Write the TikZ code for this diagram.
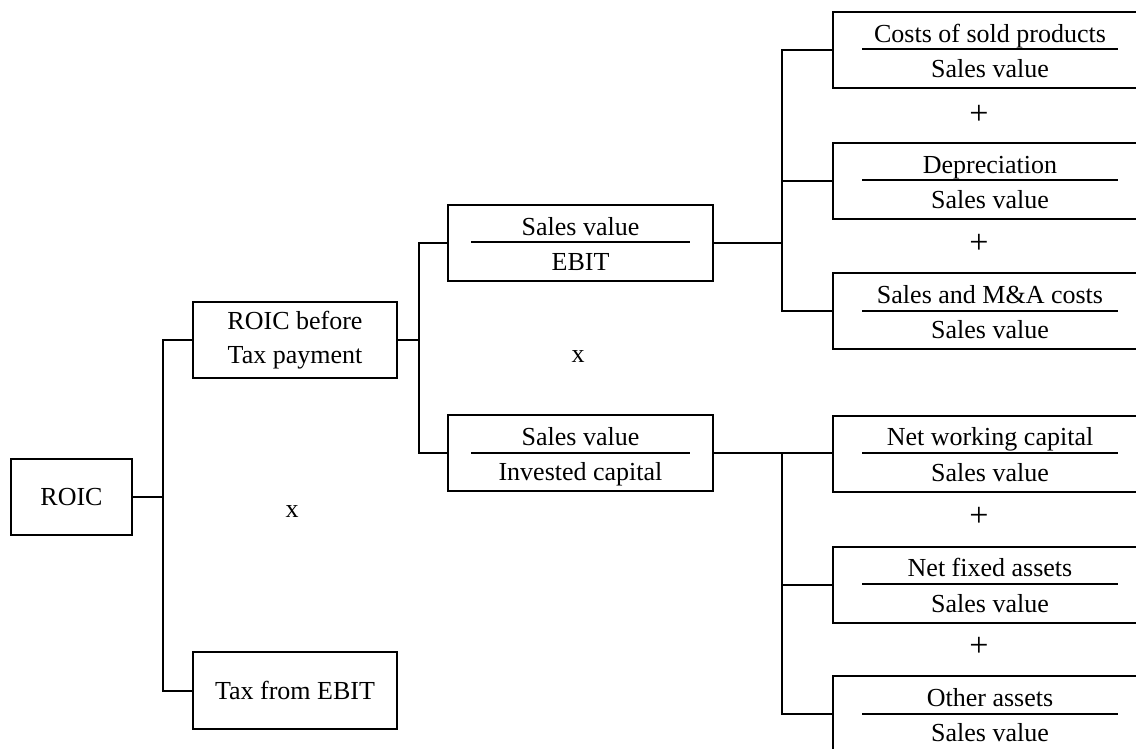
\documentclass[tikz,border=0pt]{standalone}
\usepackage{fontspec}
\usepackage{array}
\usepackage{tikz}
\setmainfont{Liberation Serif}

\setlength{\arrayrulewidth}{1pt}
\newcommand{\ratio}[3]{%
  \begin{tabular}{@{}>{\centering\arraybackslash}p{#1}@{}}
    \rule{0pt}{15pt}#2\\[-2pt]\hline
    \rule{0pt}{13.5pt}#3
  \end{tabular}}

\tikzset{
  box/.style={draw, line width=1pt, inner sep=0pt, minimum height=38pt,
    align=center, font=\fontsize{13}{17}\selectfont},
  sign/.style={inner sep=0pt, font=\fontsize{13}{17}\selectfont},
  plus/.style={inner sep=0pt, font=\fontsize{17}{17}\selectfont},
  link/.style={line width=1pt}
}

\begin{document}
\begin{tikzpicture}[x=0.5pt, y=-0.5pt]
  \clip (0,0) rectangle (1136,749);
  % left part
  \node[box, minimum width=60.5pt] (roic) at (71.5,497) {ROIC};
  \node[box, minimum width=102pt] (pre) at (295,340) {ROIC before\\Tax payment};
  \node[box, minimum width=102pt, minimum height=38.5pt] (tax) at (295,690.5) {Tax from EBIT};
  \node[sign] (x1) at (292,512) {x};
  % middle part
  \node[box, minimum width=132.5pt] (ebit) at (580.5,243) {\ratio{109.5pt}{Sales value}{EBIT}};
  \node[box, minimum width=132.5pt] (inv) at (580.5,453) {\ratio{109.5pt}{Sales value}{Invested capital}};
  \node[sign] (x2) at (578,357) {x};
  % right part
  \node[box, minimum width=157pt] (cogs) at (990,50) {\ratio{128pt}{Costs of sold products}{Sales value}};
  \node[box, minimum width=157pt] (dep) at (990,181) {\ratio{128pt}{Depreciation}{Sales value}};
  \node[box, minimum width=157pt] (sma) at (990,311) {\ratio{128pt}{Sales and M\&A costs}{Sales value}};
  \node[box, minimum width=157pt] (nwc) at (990,453.5) {\ratio{128pt}{Net working capital}{Sales value}};
  \node[box, minimum width=157pt] (nfa) at (990,584.5) {\ratio{128pt}{Net fixed assets}{Sales value}};
  \node[box, minimum width=157pt] (oth) at (990,714) {\ratio{128pt}{Other assets}{Sales value}};
  \foreach \y in {115,244,517,647} {
    \node[plus] (plus\y) at (979,\y) {+};
  }
  % connectors
  \coordinate (j1) at (163,497);
  \coordinate (j2) at (419,340);
  \coordinate (j3) at (782,243);
  \coordinate (j4) at (782,453);
  \draw[link] (roic) -- (j1);
  \draw[link] (pre) -| (j1) |- (tax);
  \draw[link] (pre) -- (j2);
  \draw[link] (ebit) -| (j2) |- (inv);
  \draw[link] (ebit) -- (j3);
  \draw[link] (cogs) -| (j3) |- (sma);
  \draw[link] (j3 |- dep) -- (dep);
  \draw[link] (inv) -- (j4) -- (j4 -| nwc.west);
  \draw[link] (j4) |- (oth);
  \draw[link] (j4 |- nfa) -- (nfa);
\end{tikzpicture}
\end{document}
